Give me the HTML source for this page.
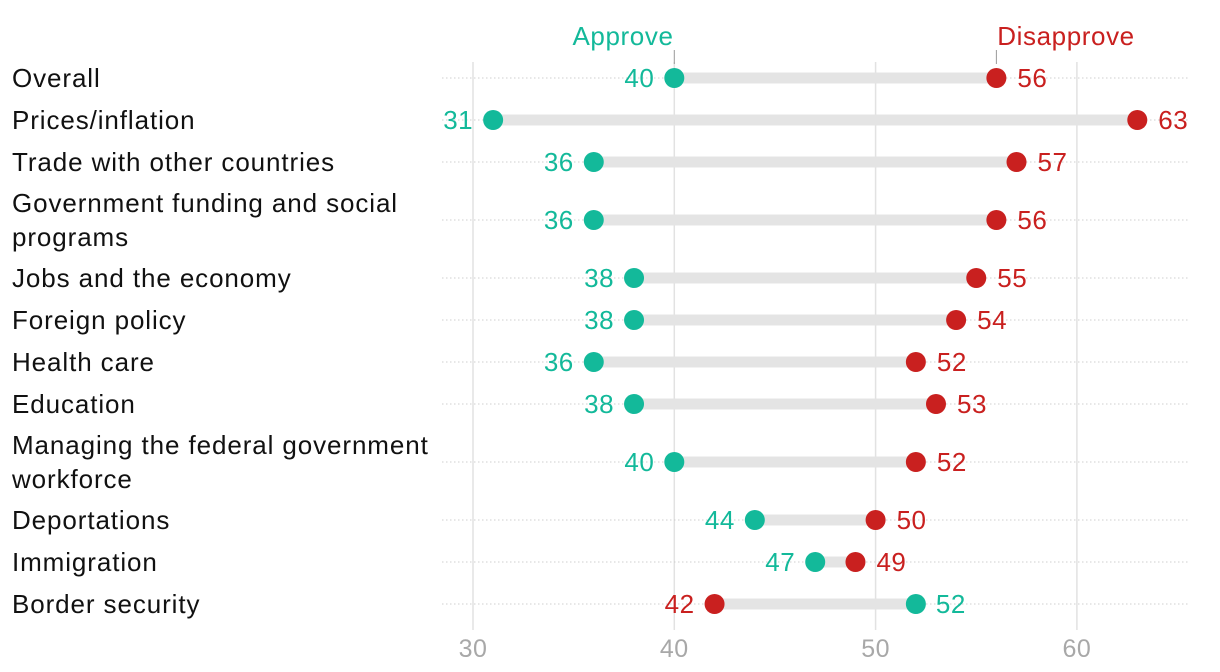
<!DOCTYPE html>
<html><head><meta charset="utf-8">
<style>
html,body{margin:0;padding:0;background:#fff;}
svg{display:block;font-family:"Liberation Sans",Arial,sans-serif;}
</style></head>
<body>
<svg id="chart" width="1220" height="672"></svg>
<script>
const categories=["Overall","Prices/inflation","Trade with other countries","Government funding and social|programs","Jobs and the economy","Foreign policy","Health care","Education","Managing the federal government|workforce","Deportations","Immigration","Border security"];
const approve=[40,31,36,36,38,38,36,38,40,44,47,52];
const disapprove=[56,63,57,56,55,54,52,53,52,50,49,42];
const ticks=[30,40,50,60];
const rowY=[78,120,162,220,278,320,362,404,462,520,562,604];
const TEAL="#13b99a",RED="#c9201f";
const svg=document.getElementById('chart');
const NS="http://www.w3.org/2000/svg";
function x(v){return 473+(v-30)*20.13;}
function mk(t,a,p){const e=document.createElementNS(NS,t);for(const k in a)e.setAttribute(k,a[k]);(p||svg).appendChild(e);return e;}
ticks.forEach(t=>{
  const l=mk('line',{x1:x(t),x2:x(t),y1:62,y2:630,stroke:'#e2e2e2','stroke-width':1.5});
  
  
  const tx=mk('text',{x:x(t),y:657,'text-anchor':'middle','font-size':25,fill:'#a8a8a8','letter-spacing':0.5});
  tx.textContent=t;
  
  
});
const ah=mk('text',{x:623,y:45,'text-anchor':'middle','font-size':26,fill:TEAL,'letter-spacing':0.6});ah.textContent='Approve';


mk('line',{x1:x(40),x2:x(40),y1:50,y2:64,stroke:'#999','stroke-width':1});
const dh=mk('text',{x:1066,y:45,'text-anchor':'middle','font-size':26,fill:RED,'letter-spacing':0.6});dh.textContent='Disapprove';


mk('line',{x1:x(56),x2:x(56),y1:50,y2:64,stroke:'#999','stroke-width':1});
categories.forEach((c,i)=>{
  const y=rowY[i];
  const g=mk('g',{});
  
  
  mk('line',{x1:442,x2:1188,y1:y,y2:y,stroke:'#cfcfcf','stroke-width':1,'stroke-dasharray':'1.5,2.5'},g);
  const parts=c.split('|');
  const lab=mk('text',{x:12,'font-size':26,fill:'#111','letter-spacing':0.9},g);
  parts.forEach((p,j)=>{const ts=mk('tspan',{x:12,y:(parts.length>1?y-8:y+9)+j*34},lab);ts.textContent=p;});
  
  
  const a=approve[i],d=disapprove[i];
  mk('line',{x1:x(a),x2:x(d),y1:y,y2:y,stroke:'#e4e4e4','stroke-width':11},g);
  const ca=mk('circle',{cx:x(a),cy:y,r:10,fill:TEAL},g);
  
  
  const cd=mk('circle',{cx:x(d),cy:y,r:10,fill:RED},g);
  
  
  const aLeft=a<d;
  const ta=mk('text',{x:aLeft?x(a)-20:x(a)+20,y:y+9,'text-anchor':aLeft?'end':'start','font-size':26,fill:TEAL,'letter-spacing':0.5},g);ta.textContent=a;
  
  
  const td=mk('text',{x:aLeft?x(d)+21:x(d)-20,y:y+9,'text-anchor':aLeft?'start':'end','font-size':26,fill:RED,'letter-spacing':0.5},g);td.textContent=d;
  
  
});
</script>
</body></html>
